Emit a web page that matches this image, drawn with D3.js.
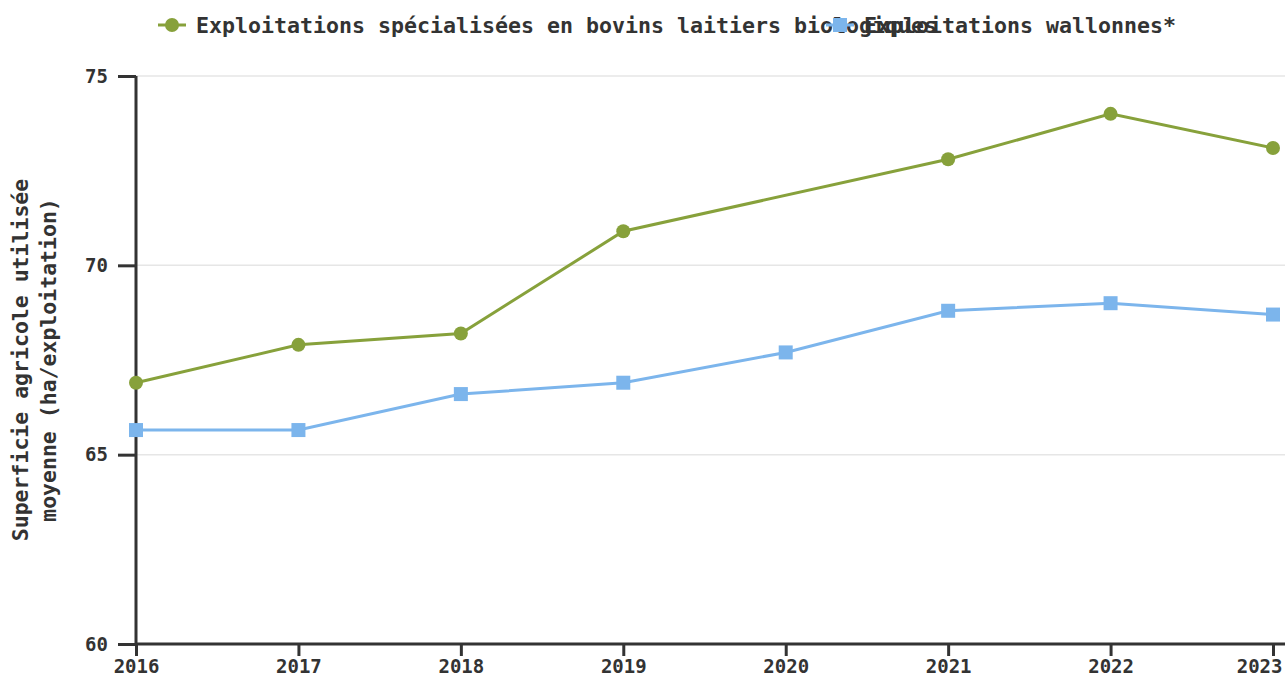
<!DOCTYPE html>
<html>
<head>
<meta charset="utf-8">
<script src="https://cdn.jsdelivr.net/npm/d3@7"></script>
<style>
body { margin: 0; background: #fff; }
text { font-family: "DejaVu Sans Mono", monospace; font-weight: bold; fill: #333; }
</style>
</head>
<body>
<script>
// data
var years = [2016, 2017, 2018, 2019, 2020, 2021, 2022, 2023];
var bioValues = [66.9, 67.9, 68.2, 70.9, null, 72.8, 74.0, 73.1];
var wallonValues = [65.65, 65.65, 66.6, 66.9, 67.7, 68.8, 69.0, 68.7];
var yTicks = [60, 65, 70, 75];
var seriesNames = ['Exploitations spécialisées en bovins laitiers biologiques', 'Exploitations wallonnes*'];

var width = 1285;
var height = 681;

var svg = d3.select('body').append('svg')
    .attr('width', width)
    .attr('height', height);

var x = d3.scaleLinear().domain([2016, 2023]).range([136, 1273]);
var y = d3.scaleLinear().domain([60, 75]).range([644, 76]);

// grid lines
svg.append('g').selectAll('line')
    .data(yTicks.filter(function (d) { return d > 60; }))
    .enter().append('line')
    .attr('x1', 136).attr('x2', width)
    .attr('y1', function (d) { return y(d); })
    .attr('y2', function (d) { return y(d); })
    .attr('stroke', '#e6e6e6')
    .attr('stroke-width', 1.5);

// y axis
var yAxis = svg.append('g')
    .attr('transform', 'translate(136,0)')
    .call(d3.axisLeft(y).tickValues(yTicks).tickSize(18).tickPadding(10));
yAxis.selectAll('text').style('font-size', '19px');

// x axis
var xAxis = svg.append('g')
    .attr('transform', 'translate(0,644)')
    .call(d3.axisBottom(x).tickValues(years).tickFormat(d3.format('d')).tickSize(12).tickPadding(4));
xAxis.selectAll('text').style('font-size', '19px');
// last label is pushed inside the frame
xAxis.selectAll('.tick').filter(function (d) { return d === 2023; })
    .select('text')
    .attr('text-anchor', 'end')
    .attr('x', width - 3 - x(2023));

svg.selectAll('.domain, .tick line')
    .attr('stroke', '#333')
    .attr('stroke-width', 3);
yAxis.select('.domain').attr('d', 'M0,' + y(75) + 'V' + y(60));
xAxis.select('.domain').attr('d', 'M' + x(2016) + ',0H' + width);

// y title
var title = svg.append('text')
    .attr('transform', 'translate(28,360) rotate(-90)')
    .attr('text-anchor', 'middle')
    .style('font-size', '21.5px');
title.append('tspan').attr('x', 0).attr('dy', 0).text('Superficie agricole utilisée');
title.append('tspan').attr('x', 0).attr('dy', 28).text('moyenne (ha/exploitation)');

var line = d3.line()
    .x(function (d) { return x(d[0]); })
    .y(function (d) { return y(d[1]); });

var bioPoints = years.map(function (yr, i) { return [yr, bioValues[i]]; })
    .filter(function (d) { return d[1] !== null; });
var wallonPoints = years.map(function (yr, i) { return [yr, wallonValues[i]]; });

var green = '#87a13b';
var blue = '#7cb5ec';

svg.append('path')
    .datum(wallonPoints)
    .attr('d', line)
    .attr('fill', 'none')
    .attr('stroke', blue)
    .attr('stroke-width', 3);

svg.append('g').selectAll('rect')
    .data(wallonPoints)
    .enter().append('rect')
    .attr('x', function (d) { return x(d[0]) - 7; })
    .attr('y', function (d) { return y(d[1]) - 7; })
    .attr('width', 14).attr('height', 14)
    .attr('fill', blue);

svg.append('path')
    .datum(bioPoints)
    .attr('d', line)
    .attr('fill', 'none')
    .attr('stroke', green)
    .attr('stroke-width', 3);

svg.append('g').selectAll('circle')
    .data(bioPoints)
    .enter().append('circle')
    .attr('cx', function (d) { return x(d[0]); })
    .attr('cy', function (d) { return y(d[1]); })
    .attr('r', 7)
    .attr('fill', green);

// legend
var legend = svg.append('g');
var lg1 = legend.append('g').attr('transform', 'translate(158,25)');
lg1.append('line').attr('x1', 0).attr('x2', 28).attr('stroke', green).attr('stroke-width', 3);
lg1.append('circle').attr('cx', 14).attr('r', 7).attr('fill', green);
lg1.append('text').attr('x', 38).attr('dy', '0.35em').style('font-size', '21.6px').text(seriesNames[0]);

var lg2 = legend.append('g').attr('transform', 'translate(826,25)');
lg2.append('line').attr('x1', 0).attr('x2', 28).attr('stroke', blue).attr('stroke-width', 3);
lg2.append('rect').attr('x', 7).attr('y', -7).attr('width', 14).attr('height', 14).attr('fill', blue);
lg2.append('text').attr('x', 38).attr('dy', '0.35em').style('font-size', '21.6px').text(seriesNames[1]);
</script>
</body>
</html>
